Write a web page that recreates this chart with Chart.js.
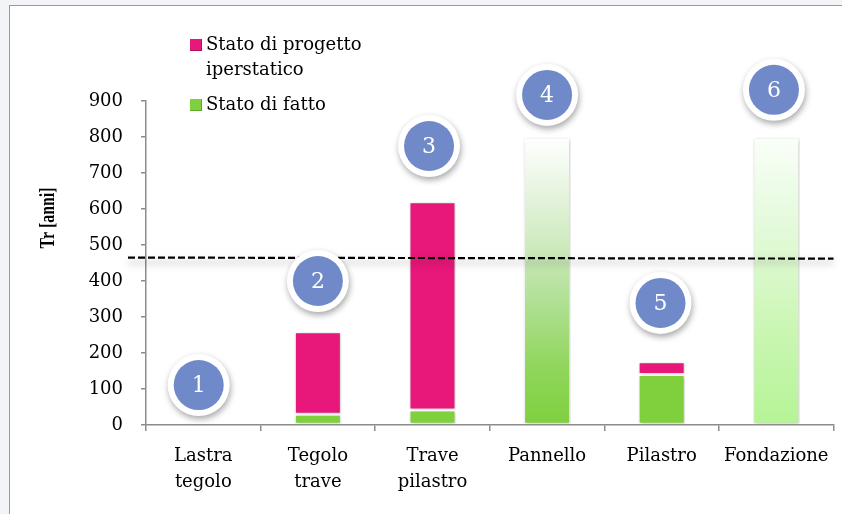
<!DOCTYPE html>
<html>
<head>
<meta charset="utf-8">
<script src="https://cdn.jsdelivr.net/npm/chart.js@4.4.1/dist/chart.umd.min.js"></script>
<style>
  html, body { margin: 0; padding: 0; }
  body { width: 842px; height: 514px; background: #f3f4f7; position: relative; overflow: hidden; }
  #frame { position: absolute; left: 9px; top: 5px; width: 860px; height: 540px; background: #ffffff;
           border-left: 1.5px solid #9a9a9a; border-top: 1.5px solid #9a9a9a; }
  #c { position: absolute; left: 0; top: 0; }
</style>
</head>
<body>
<div id="frame"></div>
<canvas id="c" width="842" height="514"></canvas>
<script>
// ---- data ----
const categories = [["Lastra", "tegolo"], ["Tegolo", "trave"], ["Trave", "pilastro"], "Pannello", "Pilastro", "Fondazione"];
const statoDiFatto = [0, 30, 42, null, 140, null];
const statoProgetto = [0, 229, 578, null, 36, null];        // stacked on top of "Stato di fatto"
const nonNecessario = [null, null, null, 800, null, 800];  // gradient bars (no intervention)
const yTicks = [0, 100, 200, 300, 400, 500, 600, 700, 800, 900];
const soglia = 465;                                         // dashed reference line [anni]
const markerLabels = ["1", "2", "3", "4", "5", "6"];
const markerCat = [-0.04, 1.0, 1.97, 3.0, 3.99, 4.98];       // category position
const markerVal = [111, 400, 775, 917, 339, 931];            // value position
const legendLabels = [["Stato di progetto", "iperstatico"], ["Stato di fatto"]];
const yTitle = "Tr [anni]";

const PINK = '#e8177a';
const GREEN = '#80d03e';
const FONT = '"DejaVu Serif", serif';

function gradFor(chart, idx) {
  const { ctx, scales } = chart;
  const y0 = scales.y.getPixelForValue(0);
  const y1 = scales.y.getPixelForValue(800);
  const g = ctx.createLinearGradient(0, y0, 0, y1);
  if (idx === 3) {
    g.addColorStop(0, '#7fd03e');
    g.addColorStop(0.2, '#90d65c');
    g.addColorStop(0.45, '#b3e199');
    g.addColorStop(0.62, '#cdeabd');
    g.addColorStop(0.82, '#e8f5e1');
    g.addColorStop(1, '#ffffff');
  } else {
    g.addColorStop(0, '#b5f496');
    g.addColorStop(0.3, '#c8f6b0');
    g.addColorStop(0.6, '#def9d2');
    g.addColorStop(0.85, '#eefcea');
    g.addColorStop(1, '#fbfffa');
  }
  return g;
}

const shadowPlugin = {
  id: 'shadow',
  beforeDatasetsDraw(chart) {
    const ctx = chart.ctx;
    ctx.save();
    ctx.shadowColor = 'rgba(0,0,0,0.22)';
    ctx.shadowBlur = 4;
    ctx.shadowOffsetX = 1;
    ctx.shadowOffsetY = 1;
  },
  afterDatasetsDraw(chart) {
    chart.ctx.restore();
  }
};

const decorPlugin = {
  id: 'decor',
  afterDraw(chart) {
    const { ctx, scales, chartArea } = chart;
    const x = scales.x, y = scales.y;

    // dashed threshold line
    const yl = y.getPixelForValue(soglia);
    ctx.save();
    ctx.strokeStyle = 'rgba(0,0,0,0.10)';
    ctx.lineWidth = 6;
    ctx.filter = 'blur(3px)';
    ctx.beginPath();
    ctx.moveTo(chartArea.left - 18, yl + 5);
    ctx.lineTo(chartArea.right, yl + 5);
    ctx.stroke();
    ctx.restore();

    ctx.save();
    ctx.strokeStyle = '#000';
    ctx.lineWidth = 2.2;
    ctx.setLineDash([7, 3]);
    ctx.beginPath();
    ctx.moveTo(chartArea.left - 18, yl);
    ctx.lineTo(chartArea.right, yl + 1);
    ctx.stroke();
    ctx.restore();

    // numbered markers
    markerLabels.forEach((lab, i) => {
      const cx = x.getPixelForValue(markerCat[i]);
      const cy = y.getPixelForValue(markerVal[i]);
      ctx.save();
      ctx.shadowColor = 'rgba(0,0,0,0.35)';
      ctx.shadowBlur = 6;
      ctx.shadowOffsetX = 1;
      ctx.shadowOffsetY = 3;
      ctx.fillStyle = '#ffffff';
      ctx.beginPath();
      ctx.arc(cx, cy, 31, 0, Math.PI * 2);
      ctx.fill();
      ctx.restore();
      ctx.save();
      ctx.fillStyle = '#7089c8';
      ctx.beginPath();
      ctx.arc(cx, cy, 25, 0, Math.PI * 2);
      ctx.fill();
      ctx.fillStyle = '#ffffff';
      ctx.font = '22px ' + FONT;
      ctx.textAlign = 'center';
      ctx.textBaseline = 'middle';
      ctx.fillText(lab, cx, cy + 1);
      ctx.restore();
    });

    // legend
    ctx.save();
    const items = [
      { color: PINK, dark: '#b0105c', lines: legendLabels[0], top: 39 },
      { color: GREEN, dark: '#5ea82a', lines: legendLabels[1], top: 99 }
    ];
    items.forEach(it => {
      ctx.fillStyle = it.dark;
      ctx.fillRect(190, it.top, 12, 12);
      ctx.fillStyle = it.color;
      ctx.fillRect(190, it.top, 11, 11);
      ctx.fillStyle = '#000';
      ctx.font = '18px ' + FONT;
      ctx.textAlign = 'left';
      ctx.textBaseline = 'middle';
      it.lines.forEach((t, k) => ctx.fillText(t, 206, it.top + 6 + k * 25));
    });
    ctx.restore();

    // y axis title (compressed bold serif)
    ctx.save();
    ctx.font = 'bold 20px "Liberation Serif", serif';
    const w = ctx.measureText(yTitle).width;
    ctx.translate(49, 218);
    ctx.rotate(-Math.PI / 2);
    ctx.scale(61 / w, 1);
    ctx.fillStyle = '#000';
    ctx.textAlign = 'center';
    ctx.textBaseline = 'middle';
    ctx.fillText(yTitle, 0, 0);
    ctx.restore();
  }
};

new Chart(document.getElementById('c'), {
  type: 'bar',
  data: {
    labels: categories,
    datasets: [
      { label: 'Stato di fatto', data: statoDiFatto, backgroundColor: GREEN, stack: 's' },
      { label: 'Stato di progetto iperstatico', data: statoProgetto, backgroundColor: PINK, stack: 's' },
      { label: 'nessun intervento', data: nonNecessario, stack: 's',
        backgroundColor: (c) => c.chart.chartArea ? gradFor(c.chart, c.dataIndex) : '#cfeac0' }
    ]
  },
  options: {
    responsive: false,
    animation: false,
    events: [],
    layout: { padding: { top: 101, right: 6, left: 0, bottom: 0 } },
    datasets: {
      bar: { categoryPercentage: 1, barPercentage: 0.41, borderColor: '#ffffff', borderWidth: 1.5, borderSkipped: false }
    },
    plugins: { legend: { display: false }, tooltip: { enabled: false } },
    scales: {
      x: {
        stacked: true,
        grid: { display: true, drawOnChartArea: false, drawTicks: true, tickLength: 6, color: '#8c8c8c', offset: true, lineWidth: 1.5 },
        border: { display: true, color: '#8c8c8c', width: 1.5 },
        ticks: { color: '#000', font: { family: FONT, size: 18, lineHeight: 1.42 }, padding: 13, maxRotation: 0, autoSkip: false },
        afterFit(s) { s.height = 89; }
      },
      y: {
        stacked: true,
        min: 0, max: 900,
        afterBuildTicks(s) { s.ticks = yTicks.map(v => ({ value: v })); },
        grid: { display: true, drawOnChartArea: false, drawTicks: true, tickLength: 5, color: '#8c8c8c', lineWidth: 1.5 },
        border: { display: true, color: '#8c8c8c', width: 1.5 },
        ticks: { color: '#000', font: { family: FONT, size: 18 }, padding: 18 },
        afterFit(s) { s.width = 146; }
      }
    }
  },
  plugins: [shadowPlugin, decorPlugin]
});
</script>
</body>
</html>
